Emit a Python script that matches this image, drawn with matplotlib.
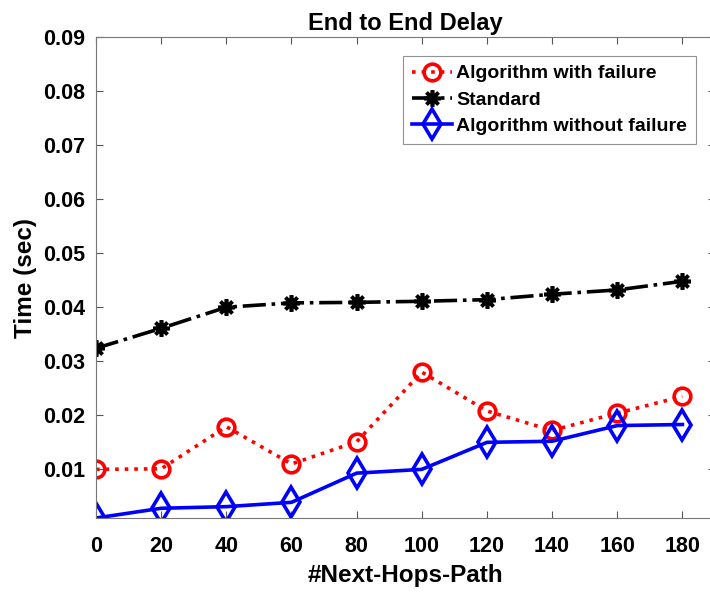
import matplotlib.pyplot as plt

plt.rcParams['font.family'] = ['Liberation Sans', 'DejaVu Sans']
plt.rcParams['font.weight'] = 'bold'

# data
hops = [0, 20, 40, 60, 80, 100, 120, 140, 160, 180]
with_failure = [0.0100, 0.0101, 0.0179, 0.0110, 0.0151, 0.0280, 0.0208, 0.0172, 0.0204, 0.0235]
standard = [0.0324, 0.0361, 0.0400, 0.0408, 0.0409, 0.0411, 0.0414, 0.0424, 0.0432, 0.0448]
without_failure = [0.0010, 0.0028, 0.0031, 0.0039, 0.0093, 0.0100, 0.0150, 0.0152, 0.0181, 0.0183]

fig = plt.figure(figsize=(7.1, 5.94), dpi=100)
ax = fig.add_axes([96 / 710, 76 / 594, 619 / 710, 481 / 594])

ax.plot(hops, with_failure, color='red', linestyle=':', linewidth=2.6,
        marker='o', markersize=12, markerfacecolor='none', markeredgewidth=2.6,
        label='Algorithm with failure')
ax.plot(hops, standard, color='black', linestyle='-.', linewidth=2.6,
        marker=(8, 2, 0), markersize=12, markeredgewidth=2.6,
        label='Standard')
ax.plot(hops, without_failure, color='blue', linestyle='-', linewidth=2.6,
        marker='d', markersize=15, markerfacecolor='none', markeredgewidth=2.6,
        label='Algorithm without failure')

ax.set_xlim(0, 190)
ax.set_ylim(0.001, 0.09)
ax.set_xticks(hops)
ax.set_yticks([0.01, 0.02, 0.03, 0.04, 0.05, 0.06, 0.07, 0.08, 0.09])
ax.set_yticklabels(['0.01', '0.02', '0.03', '0.04', '0.05', '0.06', '0.07', '0.08', '0.09'])

ax.tick_params(direction='in', top=True, right=True, length=5, width=0.8,
               color='#555555', labelsize=15.5)
ax.tick_params(axis='x', pad=13)
ax.tick_params(axis='y', pad=8)
for lbl in ax.get_xticklabels() + ax.get_yticklabels():
    lbl.set_fontweight('bold')
for sp in ax.spines.values():
    sp.set_color('#777777')
    sp.set_linewidth(0.8)

ax.set_title('End to End Delay', fontsize=17, fontweight='bold', pad=5)
ax.set_xlabel('#Next-Hops-Path', fontsize=17.5, fontweight='bold', labelpad=5)
ax.set_ylabel('Time (sec)', fontsize=17.5, fontweight='bold', labelpad=4)

leg = ax.legend(loc='upper right', bbox_to_anchor=((696 - 96) / 619, (594 - 56 - 76) / 481),
                prop={'size': 14, 'weight': 'bold'}, fancybox=False,
                handlelength=2.1, handletextpad=0.2, borderpad=0.45, labelspacing=0.45,
                borderaxespad=0)
leg.get_frame().set_edgecolor('#777777')
leg.get_frame().set_linewidth(0.8)

plt.savefig('out.png', dpi=100)
